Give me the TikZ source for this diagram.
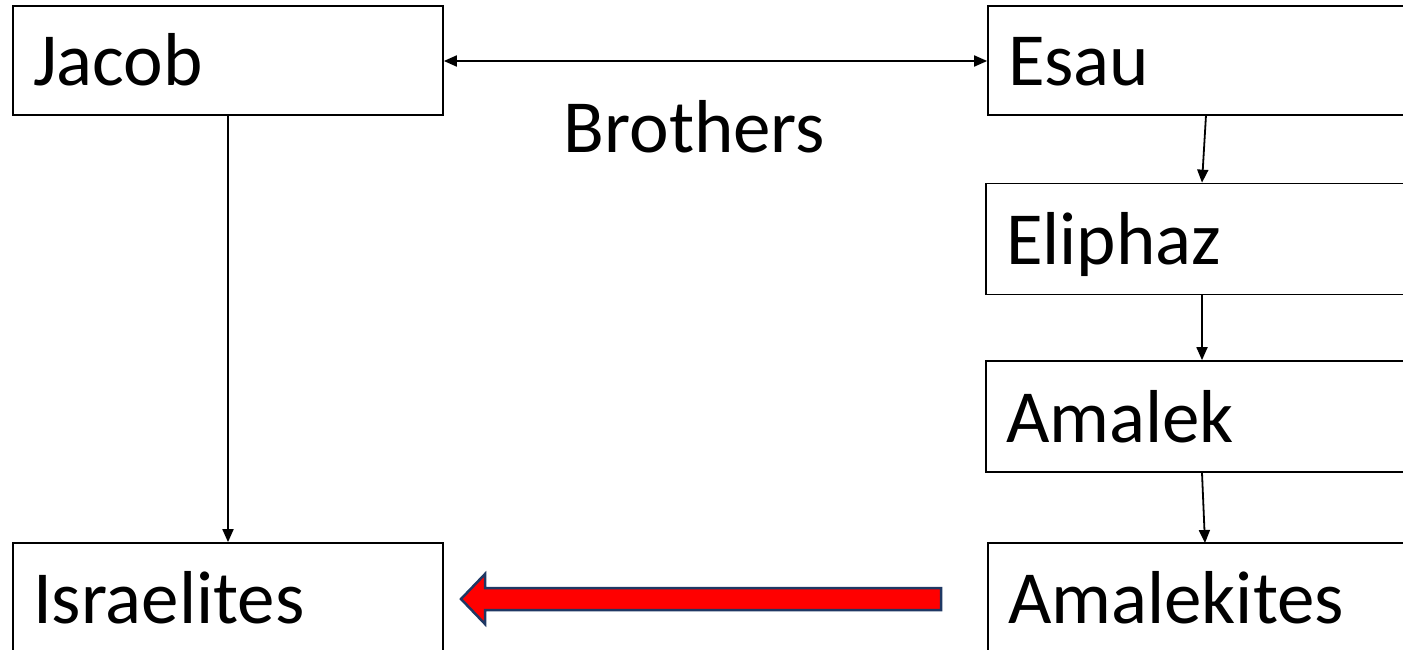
\documentclass[tikz,border=0pt]{standalone}
\usepackage{fontspec}
\setmainfont{Carlito}
\usetikzlibrary{arrows.meta}
\definecolor{navy}{HTML}{1F3864}
\begin{document}
\begin{tikzpicture}[x=1pt,y=-1pt,
  namebox/.style={draw=black,line width=1.7pt,rectangle,minimum width=430pt,minimum height=109pt,
    inner xsep=20pt,inner ysep=0pt,text width=390pt,align=left,
    font=\fontsize{75}{82}\selectfont,text height=51pt,text depth=0pt},
  conn/.style={line width=1.8pt,-{Triangle[length=13pt,width=11pt]}},
  biconn/.style={line width=1.8pt,{Triangle[length=13pt,width=11pt]}-{Triangle[length=13pt,width=11pt]}}]
\useasboundingbox (0,0) rectangle (1403,650);
\clip (0,0) rectangle (1403,650);
\node[namebox] (jacob) at (228,60.5) {Jacob};
\node[namebox] (israel) at (228,597.5) {Israelites};
\node[namebox,minimum width=432pt,text width=392pt,inner xsep=20pt] (esau) at (1204,60.5) {Esau};
\node[namebox,minimum width=432pt,text width=392pt,inner xsep=20pt,minimum height=111pt] (eliphaz) at (1202,239) {Eliphaz};
\node[namebox,minimum width=432pt,text width=392pt,inner xsep=20pt,minimum height=111pt] (amalek) at (1202,416.5) {Amalek};
\node[namebox,minimum width=432pt,text width=392pt,inner xsep=20pt] (amalekites) at (1204,597.5) {Amalekites};
\node[font=\fontsize{75}{82}\selectfont,anchor=base,inner sep=0pt] (brothers) at (694.5,153) {Brothers};
\coordinate (esaufoot) at (1206,115);
\coordinate (amktop) at (1205,543);
\draw[biconn] (jacob.east|-0,61) -- (esau.west|-0,61);
\draw[conn] (jacob.south) -- (israel.north);
\draw[conn] (esaufoot) -- (eliphaz.north);
\draw[conn] (eliphaz.south) -- (amalek.north);
\draw[conn] (amalek.south) -- (amktop);
\draw[fill=red,draw=navy,line width=2.5pt,line join=miter]
  (941,588) -- (485,588) -- (485,574) -- (461,599) -- (485,624) -- (485,610) -- (941,610) -- cycle;
\end{tikzpicture}
\end{document}
